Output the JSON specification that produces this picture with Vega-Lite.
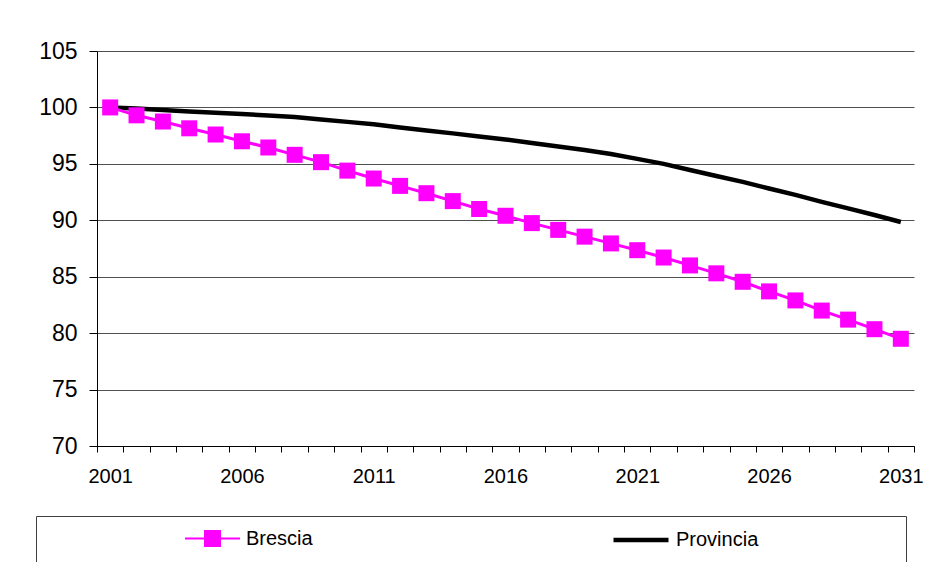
{
  "$schema": "https://vega.github.io/schema/vega-lite/v6.json",
  "padding": {"left": 35, "top": 40, "right": 0, "bottom": 0},
  "background": "white",
  "spacing": 23,
  "columns": 1,
  "resolve": {"legend": {"fill": "independent", "stroke": "independent"}},
  "config": {
    "font": "Liberation Sans",
    "view": {"stroke": null}
  },
  "datasets": {
    "pop": [
      {"year": "2001", "series": "Brescia", "value": 100.0},
      {"year": "2002", "series": "Brescia", "value": 99.3},
      {"year": "2003", "series": "Brescia", "value": 98.75},
      {"year": "2004", "series": "Brescia", "value": 98.15},
      {"year": "2005", "series": "Brescia", "value": 97.6},
      {"year": "2006", "series": "Brescia", "value": 97.0},
      {"year": "2007", "series": "Brescia", "value": 96.45},
      {"year": "2008", "series": "Brescia", "value": 95.8},
      {"year": "2009", "series": "Brescia", "value": 95.15},
      {"year": "2010", "series": "Brescia", "value": 94.4},
      {"year": "2011", "series": "Brescia", "value": 93.7},
      {"year": "2012", "series": "Brescia", "value": 93.05},
      {"year": "2013", "series": "Brescia", "value": 92.4},
      {"year": "2014", "series": "Brescia", "value": 91.7},
      {"year": "2015", "series": "Brescia", "value": 91.0},
      {"year": "2016", "series": "Brescia", "value": 90.4},
      {"year": "2017", "series": "Brescia", "value": 89.75},
      {"year": "2018", "series": "Brescia", "value": 89.15},
      {"year": "2019", "series": "Brescia", "value": 88.55},
      {"year": "2020", "series": "Brescia", "value": 87.95},
      {"year": "2021", "series": "Brescia", "value": 87.35},
      {"year": "2022", "series": "Brescia", "value": 86.7},
      {"year": "2023", "series": "Brescia", "value": 86.0},
      {"year": "2024", "series": "Brescia", "value": 85.3},
      {"year": "2025", "series": "Brescia", "value": 84.55},
      {"year": "2026", "series": "Brescia", "value": 83.7},
      {"year": "2027", "series": "Brescia", "value": 82.9},
      {"year": "2028", "series": "Brescia", "value": 82.0},
      {"year": "2029", "series": "Brescia", "value": 81.2},
      {"year": "2030", "series": "Brescia", "value": 80.35},
      {"year": "2031", "series": "Brescia", "value": 79.5},
      {"year": "2001", "series": "Provincia", "value": 100.0},
      {"year": "2002", "series": "Provincia", "value": 99.9},
      {"year": "2003", "series": "Provincia", "value": 99.78},
      {"year": "2004", "series": "Provincia", "value": 99.65},
      {"year": "2005", "series": "Provincia", "value": 99.53},
      {"year": "2006", "series": "Provincia", "value": 99.42},
      {"year": "2007", "series": "Provincia", "value": 99.29},
      {"year": "2008", "series": "Provincia", "value": 99.16},
      {"year": "2009", "series": "Provincia", "value": 98.94},
      {"year": "2010", "series": "Provincia", "value": 98.72},
      {"year": "2011", "series": "Provincia", "value": 98.5},
      {"year": "2012", "series": "Provincia", "value": 98.23},
      {"year": "2013", "series": "Provincia", "value": 97.96},
      {"year": "2014", "series": "Provincia", "value": 97.7},
      {"year": "2015", "series": "Provincia", "value": 97.43},
      {"year": "2016", "series": "Provincia", "value": 97.16},
      {"year": "2017", "series": "Provincia", "value": 96.85},
      {"year": "2018", "series": "Provincia", "value": 96.54},
      {"year": "2019", "series": "Provincia", "value": 96.23},
      {"year": "2020", "series": "Provincia", "value": 95.88},
      {"year": "2021", "series": "Provincia", "value": 95.44},
      {"year": "2022", "series": "Provincia", "value": 95.0},
      {"year": "2023", "series": "Provincia", "value": 94.46},
      {"year": "2024", "series": "Provincia", "value": 93.93},
      {"year": "2025", "series": "Provincia", "value": 93.4},
      {"year": "2026", "series": "Provincia", "value": 92.82},
      {"year": "2027", "series": "Provincia", "value": 92.25},
      {"year": "2028", "series": "Provincia", "value": 91.63},
      {"year": "2029", "series": "Provincia", "value": 91.05},
      {"year": "2030", "series": "Provincia", "value": 90.47},
      {"year": "2031", "series": "Provincia", "value": 89.85}
    ]
  },
  "concat": [
    {
      "spacing": 1,
      "hconcat": [
        {
          "width": 1,
          "height": 395,
          "data": {"values": []},
          "mark": "point"
        },
        {
          "width": 817,
          "height": 395,
          "data": {"name": "pop"},
          "encoding": {
            "x": {
              "field": "year",
              "type": "ordinal",
              "bandPosition": 0.5,
              "scale": {"type": "band", "paddingInner": 0, "paddingOuter": 0},
              "axis": {
                "title": null,
                "tickBand": "extent",
                "labelExpr": "(+datum.value - 2001) % 5 === 0 ? datum.value : ''",
                "labelAngle": 0,
                "labelFontSize": 20,
                "labelColor": "black",
                "labelPadding": 14,
                "labelOverlap": false,
                "tickSize": 6,
                "tickColor": "black",
                "domainColor": "black",
                "grid": false
              }
            },
            "y": {
              "field": "value",
              "type": "quantitative",
              "scale": {"domain": [70, 105], "nice": false, "zero": false},
              "axis": {
                "title": null,
                "values": [70, 75, 80, 85, 90, 95, 100, 105],
                "labelFontSize": 23,
                "labelColor": "black",
                "labelPadding": 12,
                "tickSize": 8,
                "tickColor": "black",
                "domainColor": "black",
                "grid": true,
                "gridColor": "#505050",
                "gridWidth": 1
              }
            }
          },
          "layer": [
            {
              "transform": [{"filter": "datum.series === 'Provincia'"}],
              "mark": {"type": "line", "color": "black", "strokeWidth": 4.5}
            },
            {
              "transform": [{"filter": "datum.series === 'Brescia'"}],
              "mark": {
                "type": "line",
                "color": "#FF00FF",
                "strokeWidth": 3,
                "point": {"shape": "square", "size": 256, "filled": true, "color": "#FF00FF", "opacity": 1}
              }
            }
          ]
        }
      ]
    },
    {
      "width": 870,
      "height": 46,
      "view": {"stroke": "#404040", "strokeWidth": 1},
      "data": {"name": "pop"},
      "layer": [
        {
          "transform": [{"filter": "datum.series === 'Brescia'"}],
          "mark": {"type": "point", "opacity": 0},
          "encoding": {
            "fill": {
              "field": "series",
              "type": "nominal",
              "scale": {"range": ["#FF00FF"]},
              "legend": {
                "title": null,
                "orient": "none",
                "legendX": 148,
                "legendY": -6,
                "padding": 0,
                "symbolType": "M-1,0H1M-0.273,-0.273H0.273V0.273H-0.273Z",
                "symbolSize": 3025,
                "symbolStrokeWidth": 2,
                "symbolStrokeColor": "#FF00FF",
                "symbolOpacity": 1,
                "labelFontSize": 20,
                "labelColor": "black",
                "labelOffset": 5,
                "labelFont": "Liberation Sans"
              }
            }
          }
        },
        {
          "transform": [{"filter": "datum.series === 'Provincia'"}],
          "mark": {"type": "point", "opacity": 0},
          "encoding": {
            "stroke": {
              "field": "series",
              "type": "nominal",
              "scale": {"range": ["black"]},
              "legend": {
                "title": null,
                "orient": "none",
                "legendX": 575,
                "legendY": -6,
                "padding": 0,
                "symbolType": "M-1,0H1",
                "symbolSize": 3025,
                "symbolStrokeWidth": 4.5,
                "symbolFillColor": "transparent",
                "symbolOpacity": 1,
                "labelFontSize": 20,
                "labelColor": "black",
                "labelOffset": 5,
                "labelFont": "Liberation Sans"
              }
            }
          }
        }
      ]
    }
  ]
}
